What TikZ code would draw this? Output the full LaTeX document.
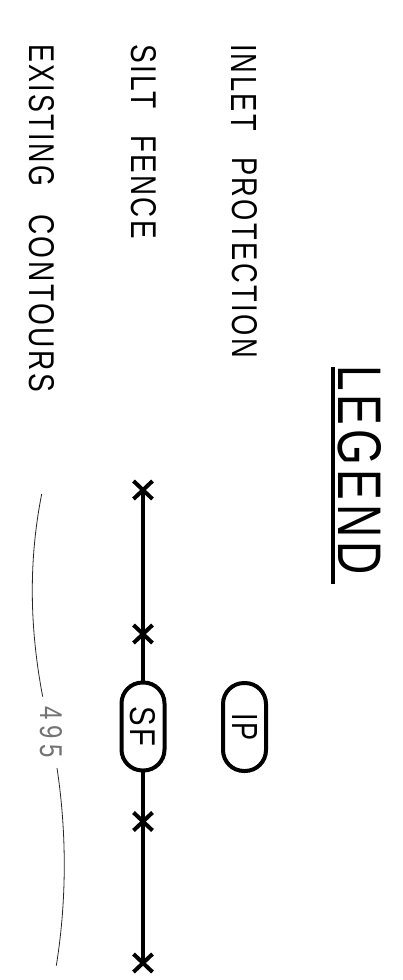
\documentclass[tikz,border=0pt]{standalone}
\usepackage{graphicx}
\usepackage{fontspec}
\setmainfont[LetterSpace=9]{Liberation Sans}
\usetikzlibrary{shapes.misc}
\newcommand{\fitword}[3]{\resizebox{#1pt}{#2pt}{#3}}
\tikzset{
  word/.style={anchor=north west,rotate=-90,inner sep=0pt,outer sep=0pt},
  pill/.style={draw=black,line width=4pt,fill=white,rotate=-90,rectangle,rounded corners=21pt,
    minimum width=88pt,minimum height=43pt,inner sep=0pt,outer sep=0pt},
  xmark/.style={cross out,draw=black,line width=4pt,minimum width=19pt,minimum height=18pt,inner sep=0pt,outer sep=0pt},
  fence/.style={line width=4pt,black},
  contour/.style={line width=0.8pt,black!85},
  rule/.style={line width=4.5pt,black}
}
\begin{document}
\begin{tikzpicture}[x=1pt,y=-1pt]
\fill[white] (0,0) rectangle (403,980);
\useasboundingbox (0,0) rectangle (403,980);
% title
\node[word] (t1) at (382,365) {\fitword{210}{43}{LEGEND}};
\coordinate (u1) at (333,367);
\coordinate (u2) at (333,584);
\draw[rule] (u1) -- (u2);
% labels
\node[word] (a1) at (257,44) {\fitword{87}{25}{INLET}};
\node[word] (a2) at (257,157) {\fitword{201}{25}{PROTECTION}};
\node[word] (b1) at (156,44) {\fitword{65}{25}{SILT}};
\node[word] (b2) at (156,135) {\fitword{104}{25}{FENCE}};
\node[word] (c1) at (55,44) {\fitword{142}{25}{EXISTING}};
\node[word] (c2) at (55,214) {\fitword{178}{25}{CONTOURS}};
% symbols
\node[xmark] (x1) at (143,490) {};
\node[xmark] (x2) at (143,634) {};
\node[xmark] (x3) at (143,821.5) {};
\node[xmark] (x4) at (143,963) {};
\node[pill] (sf) at (143,726.5) {\fitword{40}{25}{SF}};
\node[pill] (ip) at (244.5,727) {\fitword{28}{25}{IP}};
\draw[fence] (x1.center) -- (x2.center) -- (sf);
\draw[fence] (sf) -- (x3.center) -- (x4.center);
% contour
\coordinate (k1) at (41.7,494);
\coordinate (k2) at (42.7,696.7);
\coordinate (k3) at (57,768);
\coordinate (k4) at (56.3,965.7);
\draw[contour] (k1) .. controls (29,558) and (29,625) .. (k2);
\draw[contour] (k3) .. controls (66.8,833) and (66.8,900) .. (k4);
\node[word,text=black!55] (n1) at (62,706) {\fitword{52}{22}{\addfontfeature{LetterSpace=25}495}};
\end{tikzpicture}
\end{document}
